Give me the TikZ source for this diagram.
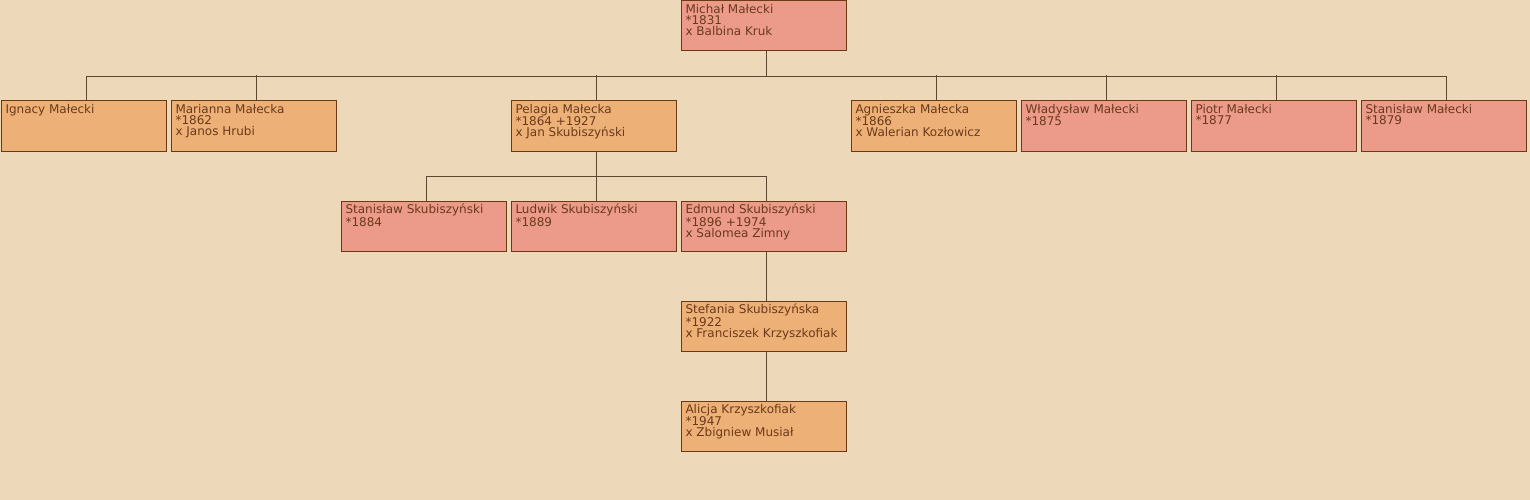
\documentclass[tikz,border=0pt]{standalone}
\usepackage{fontspec}
\setmainfont{DejaVu Sans}
\definecolor{bg}{HTML}{EDD8BA}
\definecolor{pinkbox}{HTML}{EC9B8B}
\definecolor{orangebox}{HTML}{EDB177}
\definecolor{edge}{HTML}{6B3A12}
\definecolor{ink}{HTML}{6B3A1A}
\definecolor{wire}{HTML}{5E4630}
\tikzset{
  person/.style={draw=edge, line width=1pt, anchor=north west, inner xsep=4.5pt, inner ysep=3pt,
    font=\fontsize{12pt}{11pt}\selectfont, text=ink},
  pk/.style={person, fill=pinkbox},
  og/.style={person, fill=orangebox},
  wire/.style={draw=wire, line width=0.8pt}
}
\newcommand{\pbox}[1]{\parbox[c][44pt][t]{156pt}{\raggedright #1}}
\begin{document}
\begin{tikzpicture}[x=1pt,y=-1pt]
\fill[bg] (0,0) rectangle (1530,500);
\useasboundingbox (0,0) rectangle (1530,500);
% row 0
\node[pk] (michal) at (680.5,0.5) {\pbox{Michał Małecki\\{}*1831\\{}x Balbina Kruk}};
% row 1
\node[og] (ignacy) at (0.5,100.5) {\pbox{Ignacy Małecki}};
\node[og] (marianna) at (170.5,100.5) {\pbox{Marianna Małecka\\{}*1862\\{}x Janos Hrubi}};
\node[og] (pelagia) at (510.5,100.5) {\pbox{Pelagia Małecka\\{}*1864 +1927\\{}x Jan Skubiszyński}};
\node[og] (agnieszka) at (850.5,100.5) {\pbox{Agnieszka Małecka\\{}*1866\\{}x Walerian Kozłowicz}};
\node[pk] (wladyslaw) at (1020.5,100.5) {\pbox{Władysław Małecki\\{}*1875}};
\node[pk] (piotr) at (1190.5,100.5) {\pbox{Piotr Małecki\\{}*1877}};
\node[pk] (stanislawm) at (1360.5,100.5) {\pbox{Stanisław Małecki\\{}*1879}};
% row 2
\node[pk] (stanislaws) at (340.5,200.5) {\pbox{Stanisław Skubiszyński\\{}*1884}};
\node[pk] (ludwik) at (510.5,200.5) {\pbox{Ludwik Skubiszyński\\{}*1889}};
\node[pk] (edmund) at (680.5,200.5) {\pbox{Edmund Skubiszyński\\{}*1896 +1974\\{}x Salomea Zimny}};
% row 3
\node[og] (stefania) at (680.5,300.5) {\pbox{Stefania Skubiszyńska\\{}*1922\\{}x Franciszek Krzyszkofiak}};
% row 4
\node[og] (alicja) at (680.5,400.5) {\pbox{Alicja Krzyszkofiak\\{}*1947\\{}x Zbigniew Musiał}};
% connectors (drawn 2.5px right of box centre, as in the reference)
\tikzset{shift right/.style={xshift=2.5pt}}
\coordinate (m0) at ([xshift=2.5pt]michal.south);
\coordinate (j1) at ([yshift=-25pt]m0);
\draw[wire] (m0) -- (j1);
\draw[wire] ([xshift=2.5pt]ignacy.north) |- (j1) -| ([xshift=2.5pt]stanislawm.north);
\foreach \c in {marianna,pelagia,agnieszka,wladyslaw,piotr}
  \draw[wire] ([xshift=2.5pt]\c.north) -- ++(0,-25);
\coordinate (p0) at ([xshift=2.5pt]pelagia.south);
\coordinate (j2) at ([yshift=-25pt]p0);
\draw[wire] (p0) -- (j2);
\draw[wire] ([xshift=2.5pt]stanislaws.north) |- (j2) -| ([xshift=2.5pt]edmund.north);
\draw[wire] ([xshift=2.5pt]ludwik.north) -- (j2);
\draw[wire] ([xshift=2.5pt]edmund.south) -- ([xshift=2.5pt]stefania.north);
\draw[wire] ([xshift=2.5pt]stefania.south) -- ([xshift=2.5pt]alicja.north);
\end{tikzpicture}
\end{document}
